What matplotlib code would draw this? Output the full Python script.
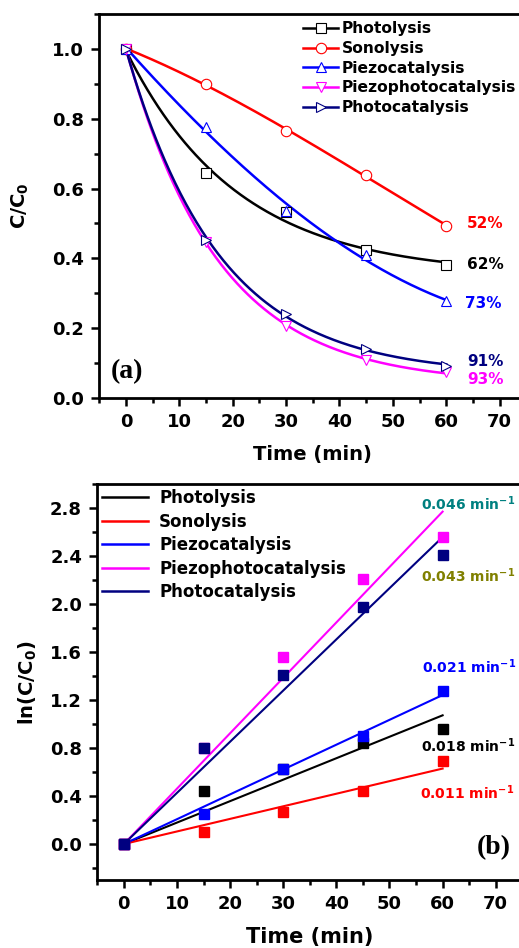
import numpy as np
import matplotlib
matplotlib.use("Agg")
import matplotlib.pyplot as plt
from matplotlib.lines import Line2D
from matplotlib.ticker import MultipleLocator, FormatStrFormatter

# time points (min)
time = [0, 15, 30, 45, 60]

names = ["Photolysis", "Sonolysis", "Piezocatalysis", "Piezophotocatalysis", "Photocatalysis"]
colors = ["black", "#ff0000", "#0000ff", "#ff00ff", "#000080"]
markers = ["s", "o", "^", "v", ">"]

# (a) C/C0
photolysis = [1.0, 0.645, 0.532, 0.425, 0.38]
sonolysis = [1.0, 0.90, 0.764, 0.638, 0.494]
piezocatalysis = [1.0, 0.777, 0.535, 0.409, 0.277]
piezophotocatalysis = [1.0, 0.447, 0.206, 0.109, 0.074]
photocatalysis = [1.0, 0.454, 0.242, 0.139, 0.091]
curve_kind = ["exp", "poly", "poly", "exp", "exp"]

pct_labels = ["62%", "52%", "73%", "93%", "91%"]
pct_x = [63.9, 63.9, 63.5, 63.9, 63.9]
pct_y = [0.382, 0.501, 0.272, 0.054, 0.104]

# (b) ln(C0/C)
ln_photolysis = [0.0, 0.44, 0.625, 0.84, 0.96]
ln_sonolysis = [0.0, 0.10, 0.27, 0.44, 0.69]
ln_piezocatalysis = [0.0, 0.25, 0.625, 0.90, 1.28]
ln_piezophotocatalysis = [0.0, 0.80, 1.56, 2.21, 2.56]
ln_photocatalysis = [0.0, 0.80, 1.41, 1.98, 2.41]

rate_labels = ["0.018", "0.011", "0.021", "0.046", "0.043"]
rate_colors = ["black", "#ff0000", "#0000ff", "#008080", "#808000"]
rate_x = [56.0, 55.8, 56.2, 56.0, 56.0]
rate_y = [0.82, 0.43, 1.48, 2.84, 2.24]

series_a = [photolysis, sonolysis, piezocatalysis, piezophotocatalysis, photocatalysis]
series_b = [ln_photolysis, ln_sonolysis, ln_piezocatalysis, ln_piezophotocatalysis, ln_photocatalysis]


def exp_fit(t, y):
    # y = y0 + A*exp(-k t), grid search on k, linear lsq for y0, A
    best = None
    for k in np.linspace(0.005, 0.3, 3000):
        M = np.column_stack([np.ones_like(t), np.exp(-k * t)])
        coef = np.linalg.lstsq(M, y, rcond=None)[0]
        r = np.sum((M @ coef - y) ** 2)
        if best is None or r < best[0]:
            best = (r, k, coef)
    return best[1], best[2]


plt.rcParams['font.family'] = 'DejaVu Sans'
plt.rcParams['font.weight'] = 'bold'
plt.rcParams['mathtext.default'] = 'bf'

fig = plt.figure(figsize=(5.19, 9.48), dpi=100)

ax1 = fig.add_axes([99.3 / 519, 1 - 398 / 948, 427 / 519, 384 / 948])
ax2 = fig.add_axes([97.3 / 519, 1 - 880 / 948, 425 / 519, 395.7 / 948])

t = np.array(time, dtype=float)
tt = np.linspace(0, 60, 300)

handles = []
for y, name, c, m, kind in zip(series_a, names, colors, markers, curve_kind):
    y = np.array(y)
    if kind == "exp":
        k, (y0, A) = exp_fit(t, y)
        yy = y0 + A * np.exp(-k * tt)
    else:
        p = np.polyfit(t, y, 3)
        yy = np.polyval(p, tt)
    ax1.plot(tt, yy, color=c, lw=1.8, zorder=2)
    ax1.plot(t, y, ls='none', marker=m, ms=7.5, mfc='white', mec=c, mew=0.8, zorder=3)
    handles.append(Line2D([], [], color=c, lw=1.8, marker=m, ms=7.5, mfc='white', mec=c, mew=0.8))

for s, x, y, c in zip(pct_labels, pct_x, pct_y, colors):
    ax1.text(x, y, s, color=c, fontsize=11, fontweight='bold', ha='left', va='center')

ax1.text(-2.8, 0.077, "(a)", fontsize=20, fontweight='bold', family='Liberation Serif',
         ha='left', va='center')

ax1.legend(handles, names, loc='upper left', bbox_to_anchor=(0.478, 0.981), frameon=False,
           fontsize=11.2, handlelength=2.2, handletextpad=0.25, labelspacing=0.3,
           borderpad=0, borderaxespad=0, numpoints=1)

ax1.set_xlim(-5, 75)
ax1.set_ylim(0, 1.1)
ax1.xaxis.set_minor_locator(MultipleLocator(5))
ax1.yaxis.set_minor_locator(MultipleLocator(0.1))
ax1.set_xticks(np.arange(0, 71, 10))
ax1.set_yticks(np.arange(0, 1.01, 0.2))
ax1.yaxis.set_major_formatter(FormatStrFormatter('%.1f'))
ax1.set_xlabel("Time (min)", fontsize=14, fontweight='bold', labelpad=10)
ax1.set_ylabel(r"C/C$_\mathbf{0}$", fontsize=14, fontweight='bold', labelpad=15)

# (b)
for y, c in zip(series_b, colors):
    y = np.array(y)
    k = np.sum(t * y) / np.sum(t * t)
    ax2.plot(tt, k * tt, color=c, lw=1.5, zorder=2)
    ax2.plot(t, y, ls='none', marker='s', ms=6.5, color=c, zorder=3)

handles_b = [Line2D([], [], color=c, lw=1.8) for c in colors]
ax2.legend(handles_b, names, loc='upper left', bbox_to_anchor=(0.012, 0.988), frameon=False,
           fontsize=12, handlelength=2.75, handletextpad=0.65, labelspacing=0.33,
           borderpad=0, borderaxespad=0)

for s, x, y, c in zip(rate_labels, rate_x, rate_y, rate_colors):
    ax2.text(x, y, s + r" min$^{\mathbf{-1}}$", color=c, fontsize=10, fontweight='bold',
             ha='left', va='center')

ax2.text(72.8, -0.03, "(b)", fontsize=20, fontweight='bold', family='Liberation Serif',
         ha='right', va='center')

ax2.set_xlim(-5, 75)
ax2.set_ylim(-0.3, 3.0)
ax2.xaxis.set_minor_locator(MultipleLocator(5))
ax2.yaxis.set_minor_locator(MultipleLocator(0.2))
ax2.set_xticks(np.arange(0, 71, 10))
ax2.set_yticks(np.arange(0, 2.81, 0.4))
ax2.yaxis.set_major_formatter(FormatStrFormatter('%.1f'))
ax2.set_xlabel("Time (min)", fontsize=15, fontweight='bold', labelpad=10)
ax2.set_ylabel(r"ln(C/C$_\mathbf{0}$)", fontsize=14, fontweight='bold', labelpad=8)

for ax in (ax1, ax2):
    for sp in ax.spines.values():
        sp.set_linewidth(2.0)
    ax.tick_params(which='major', direction='out', length=6, width=1.8, labelsize=13, pad=5)
    ax.tick_params(which='minor', direction='out', length=3.5, width=1.8)
    ax.tick_params(top=False, right=False, which='both')
    for lab in ax.get_xticklabels() + ax.get_yticklabels():
        lab.set_fontweight('bold')

fig.savefig("out.png", dpi=100)
